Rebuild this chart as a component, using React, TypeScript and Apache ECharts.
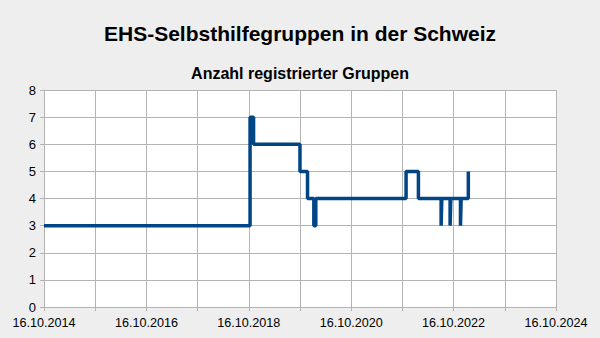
import React, { useEffect, useRef } from "react";
import * as echarts from "echarts";

const startDate = "2014-10-16";
const changeDates = [
  "2014-10-16", "2018-10-25", "2018-11-19", "2019-10-16", "2019-12-09",
  "2020-01-23", "2020-02-06", "2021-11-11", "2022-02-07", "2022-07-19",
  "2022-07-24", "2022-09-21", "2022-09-26", "2022-12-04", "2022-12-09",
  "2023-01-29",
];
const groupCounts = [3, 7, 6, 5, 4, 3, 4, 5, 4, 3, 4, 3, 4, 3, 4, 5];
const yTicks = [0, 1, 2, 3, 4, 5, 6, 7, 8];

const DAY = 86400000;
const toDays = (s: string) => {
  const [y, m, d] = s.split("-").map(Number);
  const [y0, m0, d0] = startDate.split("-").map(Number);
  return (Date.UTC(y, m - 1, d) - Date.UTC(y0, m0 - 1, d0)) / DAY;
};
const fmtDay = (v: number) => {
  const [y0, m0, d0] = startDate.split("-").map(Number);
  const t = new Date(Date.UTC(y0, m0 - 1, d0) + Math.round(v) * DAY);
  const dd = String(t.getUTCDate()).padStart(2, "0");
  const mm = String(t.getUTCMonth() + 1).padStart(2, "0");
  return `${dd}.${mm}.${t.getUTCFullYear()}`;
};

const FONT = "'Liberation Sans', Arial, sans-serif";

export default function App() {
  const ref = useRef<HTMLDivElement>(null);
  useEffect(() => {
    if (!ref.current) return;
    const chart = echarts.init(ref.current, null, { renderer: "svg" });
    chart.setOption({
      animation: false,
      backgroundColor: "#eeeeee",
      title: [
        {
          text: "EHS-Selbsthilfegruppen in der Schweiz",
          left: "center",
          top: 18,
          textStyle: { fontFamily: FONT, fontSize: 21, fontWeight: "bold", color: "#000" },
        },
        {
          text: "Anzahl registrierter Gruppen",
          left: "center",
          top: 60,
          textStyle: { fontFamily: FONT, fontSize: 16, fontWeight: "bold", color: "#000" },
        },
      ],
      grid: {
        left: 44, right: 44, top: 90, bottom: 31,
        show: true, backgroundColor: "#ffffff", borderWidth: 0,
      },
      xAxis: {
        type: "value",
        min: 0,
        max: 3652.5,
        interval: 365.25,
        axisLine: { show: true, lineStyle: { color: "#b3b3b3" } },
        axisTick: { show: true, length: 4, lineStyle: { color: "#b3b3b3" } },
        splitLine: { show: true, lineStyle: { color: "#b3b3b3", width: 1 } },
        axisLabel: {
          fontFamily: FONT, fontSize: 12.6, color: "#000", margin: 9,
          formatter: (v: number) => {
            const idx = Math.round(v / 365.25);
            return idx % 2 === 0 ? fmtDay(v) : "";
          },
        },
      },
      yAxis: {
        type: "value",
        min: yTicks[0],
        max: yTicks[yTicks.length - 1],
        interval: 1,
        axisLine: { show: true, lineStyle: { color: "#b3b3b3" } },
        axisTick: { show: true, length: 4, lineStyle: { color: "#b3b3b3" } },
        splitLine: { show: true, lineStyle: { color: "#b3b3b3", width: 1 } },
        axisLabel: { fontFamily: FONT, fontSize: 13, color: "#000", margin: 8 },
      },
      series: [
        {
          type: "line",
          step: "end",
          showSymbol: false,
          data: changeDates.map((d, i) => [toDays(d), groupCounts[i]]),
          lineStyle: { color: "#004586", width: 3.5 },
          itemStyle: { color: "#004586" },
        },
      ],
    });
    return () => chart.dispose();
  }, []);
  return <div ref={ref} style={{ width: 600, height: 338, position: "absolute", left: 0, top: 0 }} />;
}
